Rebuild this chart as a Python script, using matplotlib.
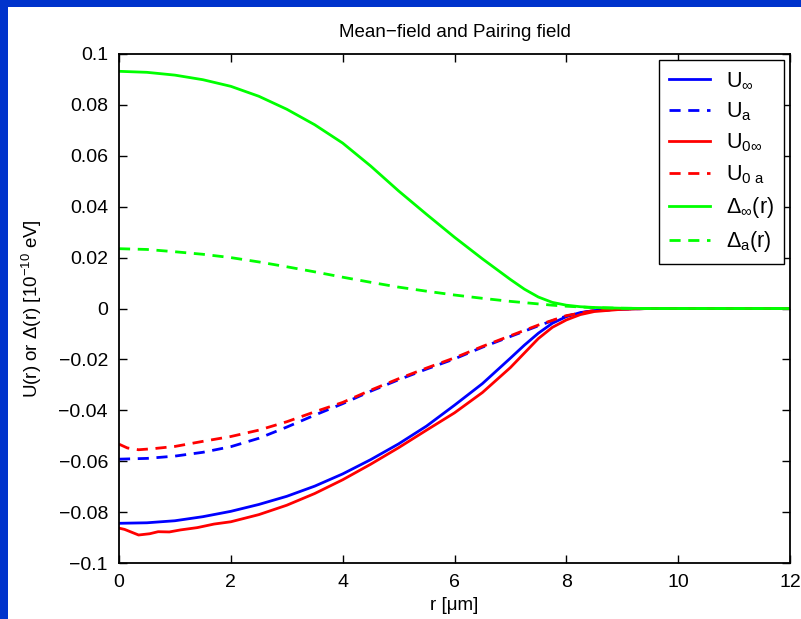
import matplotlib
matplotlib.use("Agg")
import matplotlib.pyplot as plt
from matplotlib.patches import Rectangle
from matplotlib.ticker import FuncFormatter, MultipleLocator

plt.rcParams["font.family"] = ["Liberation Sans", "DejaVu Sans"]
plt.rcParams["mathtext.fontset"] = "custom"
plt.rcParams["mathtext.rm"] = "Liberation Sans"
plt.rcParams["mathtext.it"] = "Liberation Sans:italic"
plt.rcParams["lines.scale_dashes"] = False

BORDER = "#0033cc"
BLUE, RED, GREEN = "#0000ff", "#ff0000", "#00ff00"

# ---- data (r in micrometres, fields in 1e-10 eV) ----
r = [0, 0.5, 1, 1.5, 2, 2.5, 3, 3.5, 4, 4.5, 5, 5.5, 6, 6.5, 7, 7.25, 7.5, 7.75, 8,
     8.25, 8.5, 9, 9.5, 10, 12]
u_inf = [-0.0844, -0.0842, -0.0834, -0.0818, -0.0797, -0.0770, -0.0738, -0.0698, -0.0650,
         -0.0594, -0.0532, -0.0462, -0.0380, -0.0295, -0.0195, -0.0144, -0.0097, -0.0058,
         -0.0032, -0.0016, -0.0008, -0.0002, 0, 0, 0]
u_a = [-0.0592, -0.0589, -0.0580, -0.0565, -0.0543, -0.0510, -0.0466, -0.0419, -0.0374,
       -0.0325, -0.0280, -0.0238, -0.0198, -0.0152, -0.0110, -0.0089, -0.0068, -0.0048,
       -0.0030, -0.0017, -0.0009, -0.0002, 0, 0, 0]
delta_inf = [0.0932, 0.0928, 0.0917, 0.0899, 0.0873, 0.0834, 0.0783, 0.0722, 0.0650,
             0.0560, 0.0462, 0.0370, 0.0280, 0.0195, 0.0114, 0.0076, 0.0045, 0.0024,
             0.0013, 0.0007, 0.0004, 0.0001, 0, 0, 0]
delta_a = [0.0235, 0.0232, 0.0223, 0.0213, 0.0200, 0.0183, 0.0164, 0.0144, 0.0123,
           0.0103, 0.0084, 0.0068, 0.0053, 0.0040, 0.0028, 0.0023, 0.0018, 0.0013,
           0.0009, 0.0006, 0.0003, 0.0001, 0, 0, 0]

r_u0 = [0, 0.1, 0.35, 0.55, 0.7, 0.9, 1.1, 1.4, 1.7, 2, 2.5, 3, 3.5, 4, 4.5, 5, 5.5, 6,
        6.5, 7, 7.25, 7.5, 7.75, 8, 8.25, 8.5, 9, 9.5, 10, 12]
u0_inf = [-0.0863, -0.0868, -0.0890, -0.0885, -0.0877, -0.0878, -0.0870, -0.0861, -0.0847,
          -0.0838, -0.0810, -0.0773, -0.0727, -0.0673, -0.0612, -0.0547, -0.0478, -0.0410,
          -0.0330, -0.0232, -0.0175, -0.0118, -0.0074, -0.0045, -0.0024, -0.0012,
          -0.0003, 0, 0, 0]

r_u0a = [0, 0.15, 0.35, 0.6, 1, 1.5, 2, 2.5, 3, 3.5, 4, 4.5, 5, 5.5, 6, 6.5, 7, 7.5, 8,
         8.5, 9, 9.5, 10, 12]
u0_a = [-0.0533, -0.0548, -0.0555, -0.0551, -0.0542, -0.0522, -0.0503, -0.0478, -0.0445,
        -0.0406, -0.0369, -0.0321, -0.0276, -0.0234, -0.0194, -0.0149, -0.0107, -0.0065,
        -0.0028, -0.0008, -0.0002, 0, 0, 0]

fig = plt.figure(figsize=(8.01, 6.19), dpi=100, facecolor=BORDER)
# white page inside the blue frame (frame only on left and top)
fig.patches.append(Rectangle((8 / 801, 0), 1, 1 - 7 / 619, transform=fig.transFigure,
                             facecolor="white", edgecolor="none", zorder=-1))

ax = fig.add_axes([119 / 801, 56 / 619, 671 / 801, 509 / 619])
dash = (0, (8, 5.5))
lw = 2.0
ax.plot(r, u_inf, color=BLUE, lw=lw, label=r"U$_{\infty}$")
ax.plot(r, u_a, color=BLUE, lw=lw, ls=dash, label=r"U$_{\mathrm{a}}$")
ax.plot(r_u0, u0_inf, color=RED, lw=lw, label=r"U$_{0\infty}$")
ax.plot(r_u0a, u0_a, color=RED, lw=lw, ls=dash, label=r"U$_{0\ \mathrm{a}}$")
ax.plot(r, delta_inf, color=GREEN, lw=lw, label=r"Δ$_{\infty}$(r)")
ax.plot(r, delta_a, color=GREEN, lw=lw, ls=dash, label=r"Δ$_{\mathrm{a}}$(r)")

ax.set_xlim(0, 12)
ax.set_ylim(-0.1, 0.1)
ax.xaxis.set_major_locator(MultipleLocator(2))
ax.yaxis.set_major_locator(MultipleLocator(0.02))
ax.yaxis.set_major_formatter(FuncFormatter(lambda v, _: f"{round(v, 4) + 0:g}".replace("-", "\u2212")))
ax.tick_params(direction="in", length=6, width=1, top=True, right=True,
               labelsize=14, pad=8)
for s in ax.spines.values():
    s.set_linewidth(1.3)

ax.set_title("Mean\u2212field and Pairing field", fontsize=13.5, pad=12)
ax.set_xlabel("r [\u03bcm]", fontsize=13.5, labelpad=4)
ax.set_ylabel(r"U(r) or Δ(r) [10$^{\mathregular{-10}}$ eV]", fontsize=13.5, labelpad=10)

leg = ax.legend(loc="upper right", fontsize=15.5, frameon=True, fancybox=False,
                edgecolor="black", framealpha=1, borderaxespad=0.3,
                handlelength=1.9, handletextpad=0.75, labelspacing=0.42, borderpad=0.45)
leg.get_frame().set_linewidth(1.0)

fig.savefig("out.png", dpi=100, facecolor=BORDER)
